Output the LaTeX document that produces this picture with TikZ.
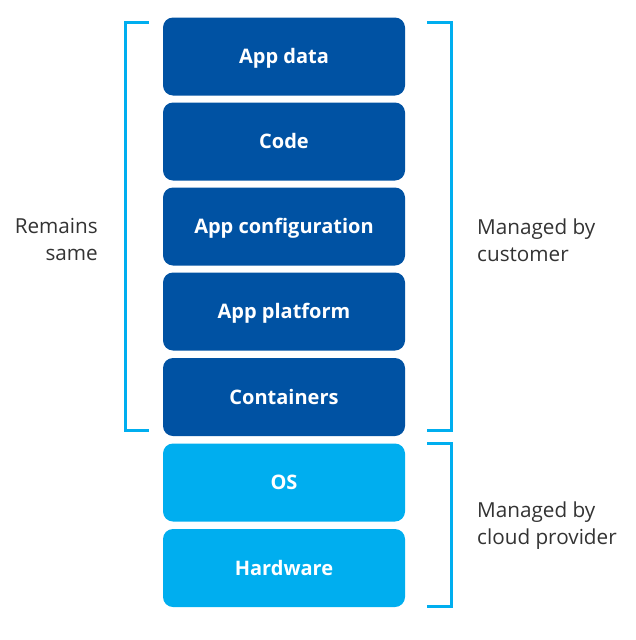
\documentclass[tikz,border=0pt]{standalone}
\usepackage{fontspec}
\setmainfont{Open Sans}
\definecolor{darkbox}{HTML}{0052A3}
\definecolor{lightbox}{HTML}{00AEEF}
\definecolor{bracketc}{HTML}{00AEEF}
\definecolor{labelc}{HTML}{333333}
\tikzset{
  layer/.style={rounded corners=10pt, minimum width=242pt, minimum height=78pt, inner sep=0pt,
    text height=14.3pt, text depth=0pt,
    text=white, font=\fontsize{20}{22}\selectfont\bfseries},
  darklayer/.style={layer, fill=darkbox},
  lightlayer/.style={layer, fill=lightbox},
  brk/.style={draw=bracketc, line width=3pt},
  sidelabel/.style={text=labelc, font=\fontsize{20.7}{27}\selectfont, inner sep=0pt}
}
\begin{document}
\begin{tikzpicture}[x=1pt,y=-1pt]
\useasboundingbox (0,0) rectangle (636,640);
\node[darklayer] (appdata) at (284,56.5) {App data};
\node[darklayer] (code) at (284,141.5) {Code};
\node[darklayer] (appconf) at (284,226.5) {App configuration};
\node[darklayer] (appplat) at (284,311.5) {App platform};
\node[darklayer] (cont) at (284,397) {Containers};
\node[lightlayer] (os) at (284,482.5) {OS};
\node[lightlayer] (hw) at (284,568) {Hardware};
% left bracket
\coordinate (l1) at (149,22.5);
\coordinate (l2) at (125,22.5);
\coordinate (l3) at (125,430.5);
\coordinate (l4) at (149,430.5);
\draw[brk] (l1) -- (l2) -- (l3) -- (l4);
% right top bracket
\coordinate (r1) at (427,22.5);
\coordinate (r2) at (451,22.5);
\coordinate (r3) at (451,430.5);
\coordinate (r4) at (427,430.5);
\draw[brk] (r1) -- (r2) -- (r3) -- (r4);
% right bottom bracket
\coordinate (s1) at (427,443.5);
\coordinate (s2) at (451,443.5);
\coordinate (s3) at (451,606.5);
\coordinate (s4) at (427,606.5);
\draw[brk] (s1) -- (s2) -- (s3) -- (s4);
\node[sidelabel, align=right, anchor=east] (remains) at (98,240) {Remains\\same};
\node[sidelabel, align=left, anchor=west] (cust) at (477,240) {Managed by\\customer};
\node[sidelabel, align=left, anchor=west] (cloud) at (477,526) {Managed by\\cloud provider};
\end{tikzpicture}
\end{document}
